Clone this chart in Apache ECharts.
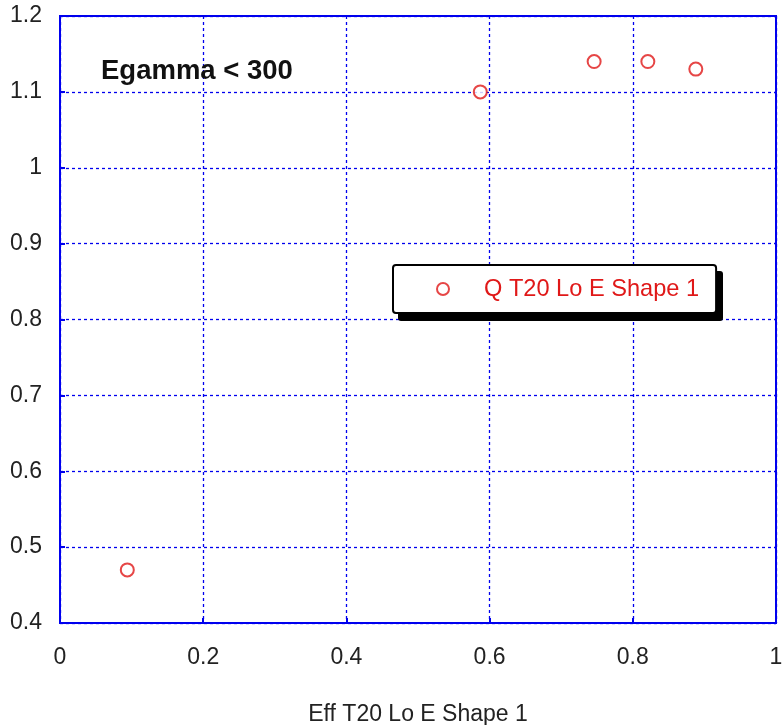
<!DOCTYPE html>
<html>
<head>
<meta charset="utf-8">
<script src="https://cdn.jsdelivr.net/npm/echarts@6/dist/echarts.min.js"></script>
<style>
html,body{margin:0;padding:0;background:#fff;}
#main{width:782px;height:725px;}
</style>
</head>
<body>
<div id="main"></div>
<script>
const seriesName = 'Q T20 Lo E Shape 1';
const effValues = [0.094, 0.587, 0.746, 0.821, 0.888];
const qValues = [0.47, 1.10, 1.14, 1.14, 1.13];
const xTicks = [0, 0.2, 0.4, 0.6, 0.8, 1];
const yTicks = [0.4, 0.5, 0.6, 0.7, 0.8, 0.9, 1, 1.1, 1.2];
const titleText = 'Egamma < 300';
const xAxisName = 'Eff T20 Lo E Shape 1';

const points = effValues.map((x, i) => [x, qValues[i]]);
const blue = '#0000ee';
const red = '#e01818';
const font = 'Liberation Sans, Arial, sans-serif';
const gridLine = {show: true, lineStyle: {color: blue, type: [3, 3], width: 1.3}};

const chart = echarts.init(document.getElementById('main'));
chart.setOption({
  animation: false,
  backgroundColor: '#fff',
  textStyle: {fontFamily: font},
  grid: {left: 60, top: 16, width: 716, height: 607, outerBoundsMode: 'none', containLabel: false, show: true, borderColor: blue, borderWidth: 2, backgroundColor: 'transparent'},
  title: {
    text: titleText, left: 96, top: 52,
    textStyle: {fontSize: 27.5, fontWeight: 'bold', color: '#111', fontFamily: font}
  },
  graphic: [{
    type: 'rect', left: 398, top: 271, z: 1,
    shape: {width: 325, height: 50, r: 3},
    style: {fill: '#000'}
  }],
  legend: {
    left: 393, top: 265, z: 5,
    data: [{name: seriesName, icon: 'emptyCircle'}],
    itemWidth: 12, itemHeight: 12,
    padding: [12, 17, 12, 43],
    backgroundColor: '#fff',
    borderColor: '#000', borderWidth: 2, borderRadius: 3,
    textStyle: {color: red, fontSize: 23.6, padding: [0, 0, 0, 30], fontFamily: font}
  },
  xAxis: {
    type: 'value', min: 0, max: 1, interval: 0.2,
    name: xAxisName, nameLocation: 'middle', nameGap: 80,
    nameTextStyle: {fontSize: 23, color: '#222'},
    axisLine: {show: true, lineStyle: {color: blue, width: 2}},
    axisTick: {show: true, inside: true, length: 5, lineStyle: {color: blue, width: 2}},
    axisLabel: {fontSize: 23, color: '#222', margin: 23, formatter: v => xTicks.includes(+v.toFixed(2)) ? String(+v.toFixed(2)) : ''},
    splitLine: gridLine
  },
  yAxis: {
    type: 'value', min: 0.4, max: 1.2, interval: 0.1,
    axisLine: {show: true, lineStyle: {color: blue, width: 2}},
    axisTick: {show: true, inside: true, length: 5, lineStyle: {color: blue, width: 2}},
    axisLabel: {fontSize: 23, color: '#222', margin: 18, formatter: v => {const r = +v.toFixed(2); return yTicks.includes(r) ? String(r) : '';}},
    splitLine: gridLine
  },
  series: [{
    name: seriesName, type: 'scatter', data: points,
    symbol: 'emptyCircle', symbolSize: 13,
    itemStyle: {color: red, borderColor: red, borderWidth: 2}
  }]
});
</script>
</body>
</html>
